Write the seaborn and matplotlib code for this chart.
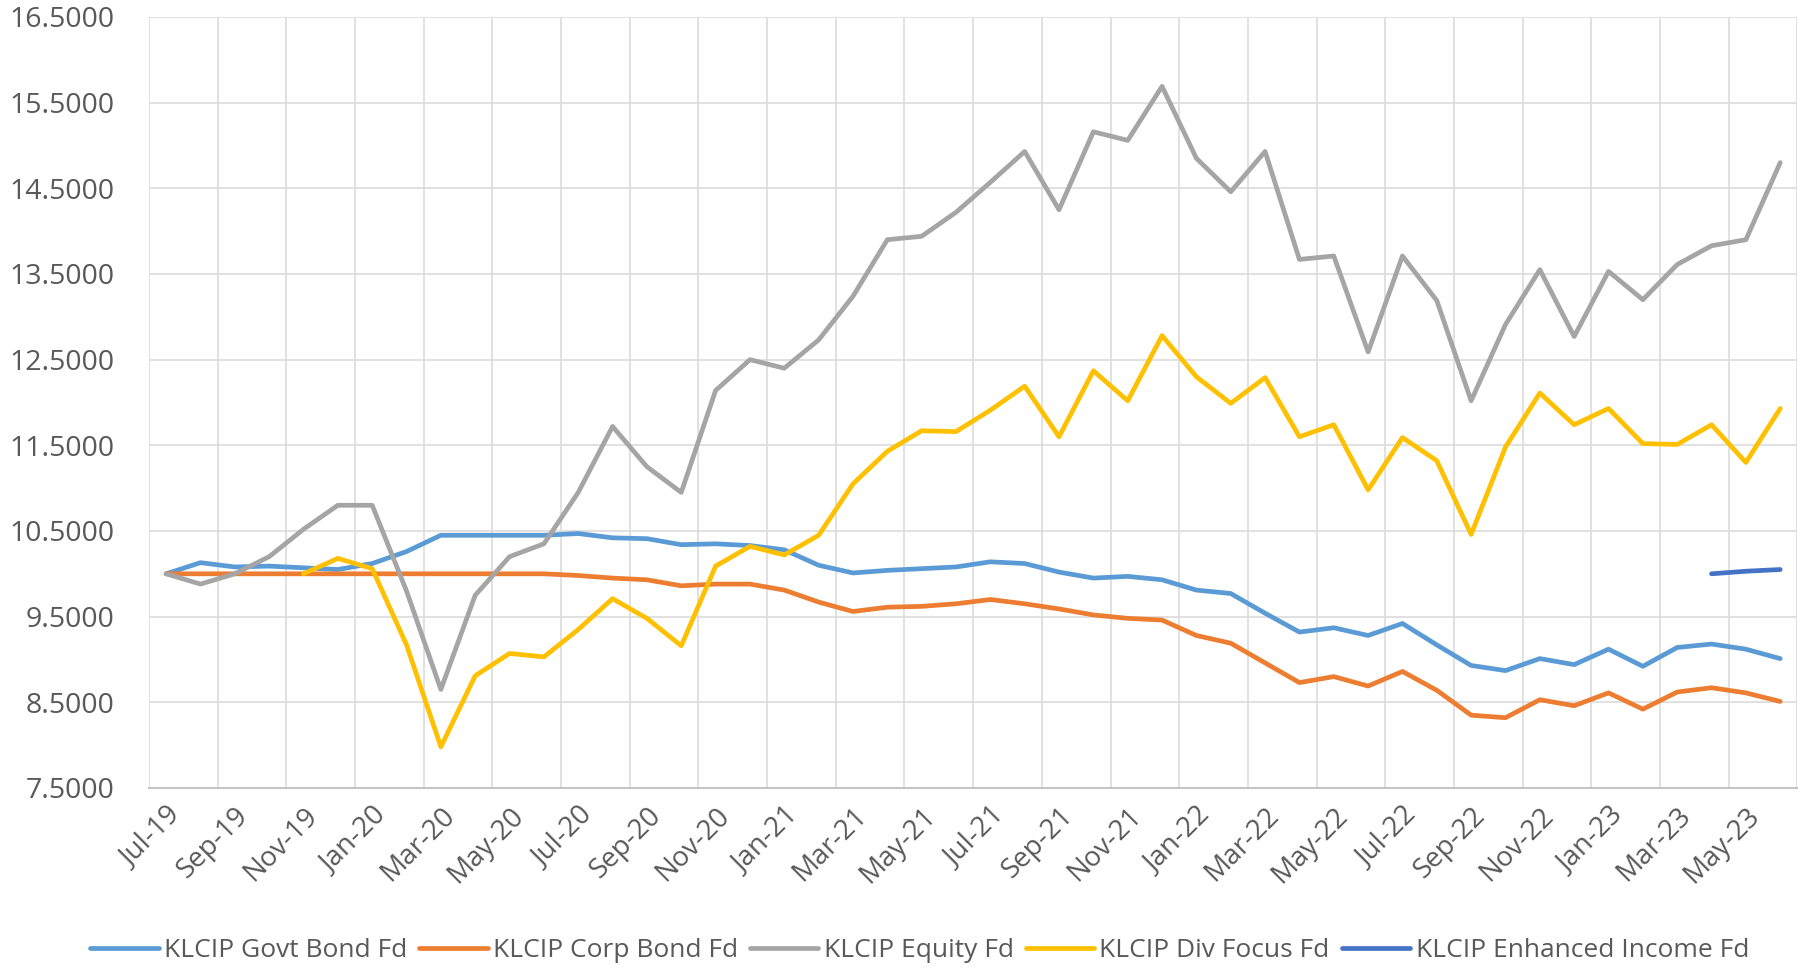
import pandas as pd
import numpy as np
import matplotlib.pyplot as plt
import matplotlib.ticker as mticker
import seaborn as sns

# month labels Jul-19 .. Jun-23
months = ['Jul-19', 'Aug-19', 'Sep-19', 'Oct-19', 'Nov-19', 'Dec-19',
          'Jan-20', 'Feb-20', 'Mar-20', 'Apr-20', 'May-20', 'Jun-20',
          'Jul-20', 'Aug-20', 'Sep-20', 'Oct-20', 'Nov-20', 'Dec-20',
          'Jan-21', 'Feb-21', 'Mar-21', 'Apr-21', 'May-21', 'Jun-21',
          'Jul-21', 'Aug-21', 'Sep-21', 'Oct-21', 'Nov-21', 'Dec-21',
          'Jan-22', 'Feb-22', 'Mar-22', 'Apr-22', 'May-22', 'Jun-22',
          'Jul-22', 'Aug-22', 'Sep-22', 'Oct-22', 'Nov-22', 'Dec-22',
          'Jan-23', 'Feb-23', 'Mar-23', 'Apr-23', 'May-23', 'Jun-23']

nan = np.nan

govt_bond = [10.00, 10.13, 10.08, 10.09, 10.07, 10.05, 10.12, 10.26, 10.45, 10.45,
             10.45, 10.45, 10.47, 10.42, 10.41, 10.34, 10.35, 10.33, 10.28, 10.10,
             10.01, 10.04, 10.06, 10.08, 10.14, 10.12, 10.02, 9.95, 9.97, 9.93,
             9.81, 9.77, 9.54, 9.32, 9.37, 9.28, 9.42, 9.17, 8.93, 8.87,
             9.01, 8.94, 9.12, 8.92, 9.14, 9.18, 9.12, 9.01]

corp_bond = [10.00, 10.00, 10.00, 10.00, 10.00, 10.00, 10.00, 10.00, 10.00, 10.00,
             10.00, 10.00, 9.98, 9.95, 9.93, 9.86, 9.88, 9.88, 9.81, 9.67,
             9.56, 9.61, 9.62, 9.65, 9.70, 9.65, 9.59, 9.52, 9.48, 9.46,
             9.28, 9.19, 8.96, 8.73, 8.80, 8.69, 8.86, 8.64, 8.35, 8.32,
             8.53, 8.46, 8.61, 8.42, 8.62, 8.67, 8.61, 8.51]

equity = [10.00, 9.88, 10.00, 10.20, 10.52, 10.80, 10.80, 9.80, 8.65, 9.75,
          10.20, 10.35, 10.95, 11.72, 11.25, 10.95, 12.14, 12.50, 12.40, 12.73,
          13.24, 13.90, 13.94, 14.22, 14.57, 14.93, 14.25, 15.16, 15.06, 15.69,
          14.85, 14.46, 14.93, 13.67, 13.71, 12.59, 13.71, 13.19, 12.02, 12.91,
          13.55, 12.77, 13.53, 13.20, 13.61, 13.83, 13.90, 14.80]

div_focus = [nan, nan, nan, nan, 10.00, 10.18, 10.06, 9.17, 7.98, 8.81,
             9.07, 9.03, 9.35, 9.71, 9.48, 9.16, 10.09, 10.32, 10.22, 10.45,
             11.05, 11.43, 11.67, 11.66, 11.91, 12.19, 11.60, 12.37, 12.02, 12.78,
             12.30, 11.99, 12.29, 11.60, 11.74, 10.98, 11.59, 11.32, 10.46, 11.48,
             12.11, 11.74, 11.93, 11.52, 11.51, 11.74, 11.30, 11.93]

enhanced_income = [nan] * 45 + [10.00, 10.03, 10.05]

series_names = ['KLCIP Govt Bond Fd', 'KLCIP Corp Bond Fd', 'KLCIP Equity Fd',
                'KLCIP Div Focus Fd', 'KLCIP Enhanced Income Fd']
series_values = [govt_bond, corp_bond, equity, div_focus, enhanced_income]
colors = ['#5B9BD5', '#ED7D31', '#A5A5A5', '#FFC000', '#4472C4']

y_ticks = [7.5, 8.5, 9.5, 10.5, 11.5, 12.5, 13.5, 14.5, 15.5, 16.5]

frames = []
for name, vals in zip(series_names, series_values):
    frames.append(pd.DataFrame({'idx': range(len(months)), 'value': vals, 'fund': name}))
df = pd.concat(frames).dropna()

sns.set_theme(style='white')
plt.rcParams['font.family'] = ['Open Sans', 'DejaVu Sans']

fig = plt.figure(figsize=(18.01, 9.71), dpi=100)
ax = fig.add_axes([0.0827, 0.1885, 0.9153, 0.794])

sns.lineplot(data=df, x='idx', y='value', hue='fund', hue_order=series_names,
             palette=dict(zip(series_names, colors)), linewidth=3.4, ax=ax,
             legend=True)

ax.set_xlim(-0.5, len(months) - 0.5)
ax.set_ylim(7.5, 16.5)
ax.set_yticks(y_ticks)
ax.yaxis.set_major_formatter(mticker.FormatStrFormatter('%.4f'))

# labels every second month, gridlines on category boundaries
label_pos = list(range(0, len(months), 2))
ax.set_xticks(label_pos)
ax.set_xticklabels([months[i] for i in label_pos], rotation=45, ha='right',
                   rotation_mode='anchor')
ax.set_xticks(np.arange(-0.5, len(months), 2), minor=True)
ax.grid(False)
ax.grid(which='minor', axis='x', color='#DCDCDC', linewidth=1.2)
ax.grid(which='major', axis='y', color='#DCDCDC', linewidth=1.2)
ax.set_axisbelow(True)
ax.tick_params(axis='both', which='both', length=0, colors='#595959')
ax.tick_params(axis='x', labelsize=20, pad=10)
ax.tick_params(axis='y', labelsize=20.5, pad=25)
for s in ['top', 'right', 'left']:
    ax.spines[s].set_visible(False)
ax.spines['bottom'].set_color('#C4C4C4')
ax.spines['bottom'].set_linewidth(1.5)
ax.set_xlabel('')
ax.set_ylabel('')

handles, labels = ax.get_legend_handles_labels()
ax.legend_.remove()
fig.legend(handles, labels, loc='center', bbox_to_anchor=(0.5105, 0.021), ncol=5,
           frameon=False, fontsize=19, handlelength=2.6, handletextpad=0.2,
           columnspacing=0.45, labelcolor='#595959')

fig.savefig('out.png', dpi=100, facecolor='white')
